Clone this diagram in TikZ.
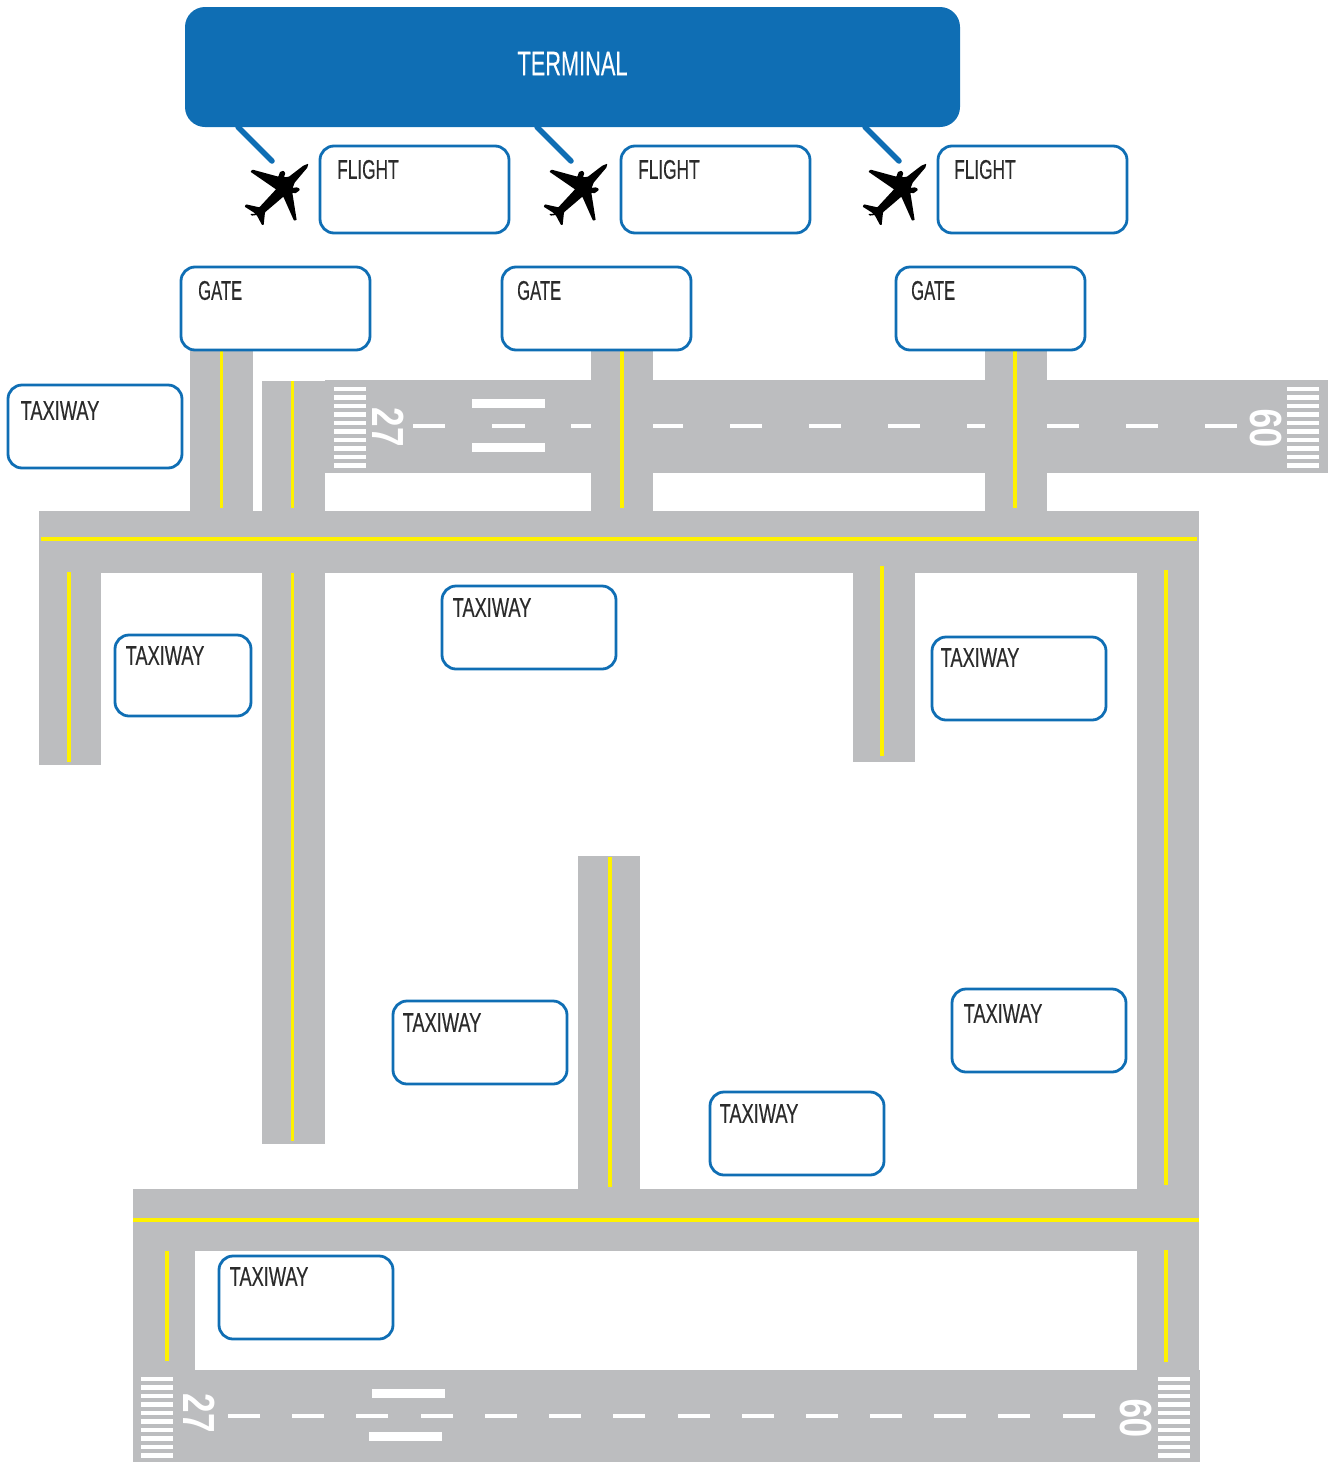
\documentclass[tikz,border=0pt]{standalone}
\usepackage{fontspec}
\setmainfont[FakeStretch=0.64,FakeBold=0.35]{Liberation Sans}
\newfontfamily\taxifont[FakeStretch=0.675,FakeBold=0.35]{Liberation Sans}
\newfontfamily\gatefont[FakeStretch=0.615,FakeBold=0.35]{Liberation Sans}
\newfontfamily\rwyfont[FakeStretch=0.78]{Liberation Sans}
\definecolor{tarmac}{HTML}{BCBDBF}
\definecolor{linebl}{HTML}{0F6EB4}
\definecolor{lineyl}{HTML}{FFF200}
\definecolor{labelgr}{HTML}{2B2B2B}
\tikzset{
  tarmacfill/.style={fill=tarmac,draw=none},
  centerline/.style={draw=lineyl,line width=3.3pt},
  markfill/.style={fill=white,draw=none},
  infobox/.style={draw=linebl,line width=2.8pt,fill=white,rounded corners=14pt,inner sep=0pt,outer sep=0pt},
  boxlabel/.style={anchor=west,inner sep=0pt,text=labelgr,font=\fontsize{27}{27}\selectfont},
  rwynum/.style={text=white,inner sep=0pt,font=\rwyfont\bfseries\fontsize{45}{45}\selectfont},
  stand/.style={draw=linebl,line width=5.5pt,line cap=round},
  planeicon/.pic={
    \fill[black,x=0.3333pt,y=-0.3333pt,rounded corners=0.6pt]
      (205,26) -- (202,38) -- (190,52) -- (164,83) -- (158,99) -- (170,97) -- (178,100) -- (179,106) -- (166,115) -- (157,113)
      -- (170,195) -- (162,197) -- (130,125) -- (75,172) -- (71,210) -- (66,210) -- (50,180) -- (35,182) -- (31,177)
      -- (47,176) -- (14,155) -- (18,148) -- (58,157) -- (108,103) -- (31,50) -- (38,44) -- (115,65)
      -- (120,51) -- (130,47) -- (136,54) -- (132,67) -- (147,65) -- (190,32) -- cycle;
  }
}
\newcommand{\rw}[4]{\fill[tarmacfill] (#1,#2) rectangle (#3,#4);}
\newcommand{\cl}[4]{\draw[centerline] (#1,#2) -- (#3,#4);}
\newcommand{\mk}[4]{\fill[markfill] (#1,#2) rectangle (#3,#4);}
\newcommand{\keys}[2]{\foreach \k in {0,...,9}{\fill[markfill] (#1,{#2+8.5*\k}) rectangle ({#1+32},{#2+8.5*\k+4.6});}}
\newcommand{\infob}[8]{%
  \node[infobox,minimum width={(#3-#2)*1pt},minimum height={(#5-#4)*1pt}] (#1) at ({(#2+#3)/2},{(#4+#5)/2}) {};
  \node[boxlabel] (#1t) at (#7,#8) {#6};}
\begin{document}
\begin{tikzpicture}[x=1pt,y=-1pt]
\useasboundingbox (0,0) rectangle (1333,1462);
% tarmac
\rw{325}{380}{1328}{473}
\rw{190}{345}{253}{515}
\rw{262}{381}{325}{515}
\rw{591}{345}{653}{515}
\rw{985}{345}{1047}{515}
\rw{39}{511}{1199}{573}
\rw{39}{570}{101}{765}
\rw{262}{570}{325}{1144}
\rw{853}{570}{915}{762}
\rw{1137}{570}{1199}{1375}
\rw{578}{856}{640}{1195}
\rw{133}{1189}{1199}{1251}
\rw{133}{1248}{195}{1375}
\rw{133}{1370}{1200}{1462}
% centre lines
\cl{221.5}{350}{221.5}{508}
\cl{292.5}{381}{292.5}{508}
\cl{622}{350}{622}{508}
\cl{1015}{350}{1015}{508}
\cl{41}{539}{1197}{539}
\cl{69}{572}{69}{762}
\cl{292.5}{573}{292.5}{1141}
\cl{882}{566}{882}{756}
\cl{1166}{570}{1166}{1185}
\cl{1166}{1250}{1166}{1362}
\cl{610}{857}{610}{1187}
\cl{133}{1220}{1199}{1220}
\cl{167}{1251}{167}{1361}
% upper runway markings
\keys{334}{386.5}
\keys{1287}{386.5}
\mk{472}{399}{545}{408}
\mk{472}{443}{545}{452}
\foreach \a/\b in {413/445,492/525,571/591,653/683,730/762,809/841,888/920,967/985,1047/1079,1126/1158,1205/1237}{\mk{\a}{423.5}{\b}{427.5}}
\node[rwynum,rotate=-90] (r27a) at (388,427) {27};
\node[rwynum,rotate=90] (r09a) at (1266,428) {09};
% lower runway markings
\keys{141}{1376.5}
\keys{1158}{1376.5}
\mk{372}{1389}{445}{1398}
\mk{369}{1432}{442}{1441}
\foreach \a in {228,292,356,421,485,549,613,678,742,806,870,934,998,1063}{\mk{\a}{1413.5}{\a+32}{1417.5}}
\node[rwynum,rotate=-90] (r27b) at (199,1413) {27};
\node[rwynum,rotate=90] (r09b) at (1136,1418) {09};
% stands
\coordinate (s1a) at (238,127); \coordinate (s1b) at (272,161);
\coordinate (s2a) at (537,127); \coordinate (s2b) at (571,161);
\coordinate (s3a) at (865,127); \coordinate (s3b) at (899,161);
\draw[stand] (s1a) -- (s1b);
\draw[stand] (s2a) -- (s2b);
\draw[stand] (s3a) -- (s3b);
% terminal
\node[fill=linebl,rounded corners=20pt,minimum width=775pt,minimum height=120pt,inner sep=0pt,outer sep=0pt] (terminal) at (572.5,67) {};
\node[text=white,inner sep=0pt,font=\fontsize{34}{34}\selectfont] (terminalt) at (572.5,63.5) {TERMINAL};
% planes
\pic at (240,155) {planeicon};
\pic at (539,155) {planeicon};
\pic at (858,155) {planeicon};
% info boxes
\infob{f1}{320}{509}{146}{233}{FLIGHT}{337}{169.5}
\infob{f2}{621}{810}{146}{233}{FLIGHT}{638}{169.5}
\infob{f3}{938}{1127}{146}{233}{FLIGHT}{954}{169.5}
\infob{g1}{181}{370}{267}{350}{\gatefont GATE}{198}{290.5}
\infob{g2}{502}{691}{267}{350}{\gatefont GATE}{517}{290.5}
\infob{g3}{896}{1085}{267}{350}{\gatefont GATE}{911}{290.5}
\infob{t1}{8}{182}{385}{468}{\taxifont TAXIWAY}{20.5}{410.5}
\infob{t2}{115}{251}{635}{716}{\taxifont TAXIWAY}{125.5}{655.5}
\infob{t3}{442}{616}{586}{669}{\taxifont TAXIWAY}{452.5}{607.5}
\infob{t4}{932}{1106}{637}{720}{\taxifont TAXIWAY}{940.5}{657.5}
\infob{t5}{393}{567}{1001}{1084}{\taxifont TAXIWAY}{402.5}{1022.5}
\infob{t6}{952}{1126}{989}{1072}{\taxifont TAXIWAY}{963.5}{1013.5}
\infob{t7}{710}{884}{1092}{1175}{\taxifont TAXIWAY}{719.5}{1113.5}
\infob{t8}{219}{393}{1256}{1339}{\taxifont TAXIWAY}{229.5}{1276.5}
\end{tikzpicture}
\end{document}
